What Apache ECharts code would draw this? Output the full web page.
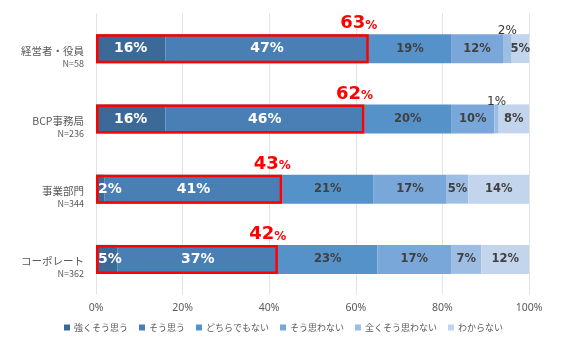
<!DOCTYPE html>
<html>
<head>
<meta charset="utf-8">
<script src="https://cdn.jsdelivr.net/npm/echarts@6/dist/echarts.min.js"></script>
<style>
  html, body { margin: 0; padding: 0; background: #ffffff; }
  #chart { width: 567px; height: 342px; }
</style>
</head>
<body>
<div id="chart"></div>
<script>
// Survey groups (top to bottom) and their sample sizes
const groups = ['経営者・役員', 'BCP事務局', '事業部門', 'コーポレート'];
const sampleSizes = ['N=58', 'N=236', 'N=344', 'N=362'];

// Answer shares (%) per group
const answerNames = ['強くそう思う', 'そう思う', 'どちらでもない', 'そう思わない', '全くそう思わない', 'わからない'];
const stronglyAgree = [16, 16, 2, 5];
const agree = [47, 46, 41, 37];
const neutral = [19, 20, 21, 23];
const disagree = [12, 10, 17, 17];
const stronglyDisagree = [2, 1, 5, 7];
const unknown = [5, 8, 14, 12];

// Combined "agree" share highlighted with a red frame
const agreeTotal = [63, 62, 43, 42];

const xTicks = [0, 20, 40, 60, 80, 100];

const palette = ['#3C6A98', '#4A7FB5', '#5592CA', '#79A7D9', '#9DBDE3', '#C3D5EC'];
const numFont = 'DejaVu Sans';
const jpFont = '"Noto Sans CJK JP", "Noto Sans", sans-serif';
const BAR_W = 29;

const whiteLabel = { show: true, position: 'inside', color: '#ffffff', fontWeight: 'bold', fontSize: 14, fontFamily: numFont, formatter: '{c}%' };
const darkLabel = { show: true, position: 'inside', color: '#404040', fontWeight: 'bold', fontSize: 11.5, fontFamily: numFont, formatter: '{c}%' };

function items(values, labelFor) {
  return values.map(v => ({ value: v, label: labelFor(v) }));
}

const seriesValues = [stronglyAgree, agree, neutral, disagree, stronglyDisagree, unknown];
const labelRules = [
  v => v < 10 ? Object.assign({}, whiteLabel, { position: 'insideLeft', distance: 2 }) : whiteLabel,
  () => whiteLabel,
  () => darkLabel,
  () => darkLabel,
  v => v < 3 ? Object.assign({}, darkLabel, { position: 'top', distance: 0, offset: [0, 3], fontWeight: 'normal', fontSize: 12, color: '#333333' }) : darkLabel,
  () => darkLabel
];

const series = seriesValues.map((vals, i) => ({
  name: answerNames[i],
  type: 'bar',
  stack: 'answers',
  barWidth: BAR_W,
  itemStyle: { color: palette[i] },
  data: items(vals, labelRules[i]),
  z: 2
}));

// Red frame around the agree share, with its total above the right end
series.push({
  name: 'agreeTotal',
  type: 'bar',
  stack: 'frame',
  barWidth: BAR_W,
  barGap: '-100%',
  silent: true,
  z: 5,
  itemStyle: { color: 'rgba(0,0,0,0)', borderColor: '#FF0000', borderWidth: 2.5 },
  label: {
    show: true,
    position: ['100%', 0],
    align: 'center',
    verticalAlign: 'bottom',
    offset: [-10, -1.5],
    formatter: p => '{big|' + p.value + '}{small|%}',
    rich: {
      big: { fontSize: 18, fontWeight: 'bold', color: '#FF0000', fontFamily: numFont, verticalAlign: 'bottom', lineHeight: 20 },
      small: { fontSize: 12, fontWeight: 'bold', color: '#FF0000', fontFamily: numFont, verticalAlign: 'bottom', lineHeight: 20, padding: [0, 0, 1, 0] }
    }
  },
  data: agreeTotal
});

const chart = echarts.init(document.getElementById('chart'), null, { renderer: 'canvas' });
chart.setOption({
  animation: false,
  backgroundColor: '#ffffff',
  grid: { left: 96, right: 38, top: 13.5, bottom: 47.5 },
  xAxis: {
    type: 'value',
    min: 0,
    max: 100,
    interval: 20,
    axisLine: { show: false },
    axisTick: { show: false },
    splitLine: { lineStyle: { color: '#E3E3E3', width: 1 } },
    axisLabel: {
      margin: 8,
      color: '#595959',
      fontSize: 10.5,
      fontFamily: '"Noto Sans", sans-serif',
      formatter: v => xTicks.indexOf(v) >= 0 ? v + '%' : ''
    }
  },
  yAxis: {
    type: 'category',
    inverse: true,
    data: groups,
    axisLine: { show: false },
    axisTick: { show: false },
    axisLabel: {
      margin: 12,
      padding: [15, 0, 0, 0],
      formatter: (v, i) => '{a|' + v + '}\n{n|' + sampleSizes[i] + '}',
      rich: {
        a: { fontSize: 10.5, color: '#595959', fontFamily: jpFont, lineHeight: 14, align: 'right' },
        n: { fontSize: 9, color: '#595959', fontFamily: jpFont, lineHeight: 11, align: 'right' }
      }
    }
  },
  legend: {
    data: answerNames,
    top: 318,
    left: 'center',
    itemWidth: 6,
    itemHeight: 6,
    itemGap: 11,
    icon: 'rect',
    textStyle: { fontSize: 9, color: '#595959', fontFamily: jpFont, padding: [0, 0, 0, -1] }
  },
  series: series
});
</script>
</body>
</html>
